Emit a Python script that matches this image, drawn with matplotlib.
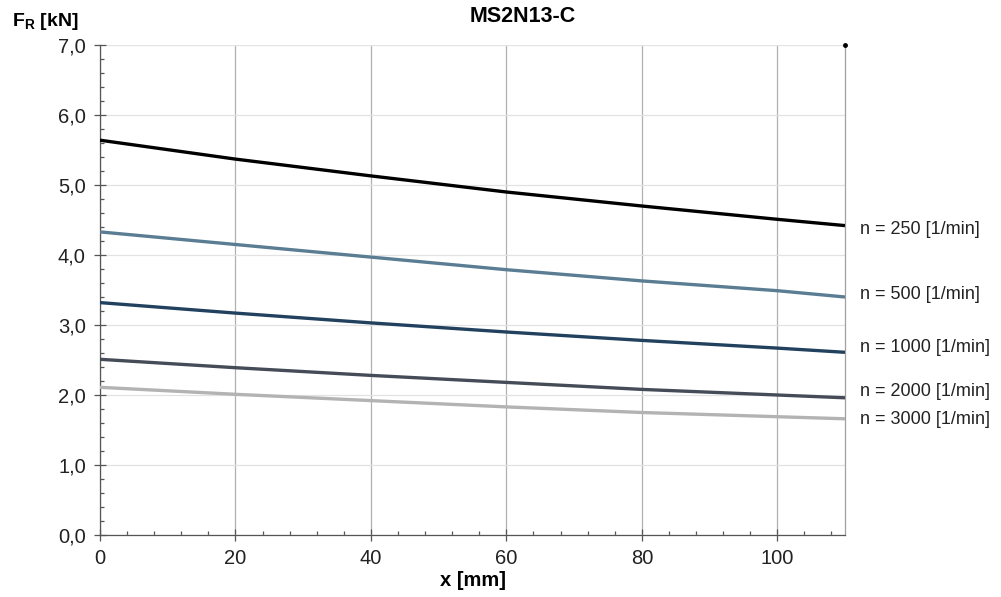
import matplotlib
matplotlib.use("Agg")
import matplotlib.pyplot as plt
from matplotlib.ticker import MultipleLocator, FuncFormatter

plt.rcParams['font.family'] = ['Liberation Sans', 'DejaVu Sans']

title = "MS2N13-C"
x_label = "x [mm]"
y_label = r"F$_\mathregular{R}$ [kN]"

x_mm = [0, 20, 40, 60, 80, 100, 110]
series_labels = ["n = 250 [1/min]", "n = 500 [1/min]", "n = 1000 [1/min]",
                 "n = 2000 [1/min]", "n = 3000 [1/min]"]
f_250 = [5.64, 5.37, 5.13, 4.90, 4.70, 4.51, 4.42]
f_500 = [4.33, 4.15, 3.97, 3.79, 3.63, 3.49, 3.40]
f_1000 = [3.32, 3.17, 3.03, 2.90, 2.78, 2.67, 2.61]
f_2000 = [2.51, 2.39, 2.28, 2.18, 2.08, 2.00, 1.96]
f_3000 = [2.11, 2.01, 1.92, 1.83, 1.75, 1.69, 1.66]
series = [f_250, f_500, f_1000, f_2000, f_3000]
colors = ["#000000", "#5a7d93", "#22415f", "#454c58", "#b3b3b3"]
# label vertical offsets (points) relative to line end
label_offsets = [-3, 2, 3.5, 4.5, -0.5]

fig = plt.figure(figsize=(10.01, 5.97), dpi=100)
ax = fig.add_axes([100/1001, 62/597, 745/1001, 490/597])

for ys, c, lab, off in zip(series, colors, series_labels, label_offsets):
    ax.plot(x_mm, ys, color=c, lw=2.4, solid_capstyle='butt', zorder=3)
    ax.annotate(lab, xy=(x_mm[-1], ys[-1]), xytext=(11, off),
                textcoords='offset points', ha='left', va='center',
                fontsize=13, color='#222222', annotation_clip=False)

ax.plot([110], [7.0], 'o', color='black', ms=2.5, clip_on=False, zorder=5)

ax.set_xlim(0, 110)
ax.set_ylim(0, 7.0)
ax.xaxis.set_major_locator(MultipleLocator(20))
ax.xaxis.set_minor_locator(MultipleLocator(4))
ax.yaxis.set_major_locator(MultipleLocator(1))
ax.yaxis.set_minor_locator(MultipleLocator(0.2))
ax.yaxis.set_major_formatter(FuncFormatter(lambda v, p: f"{v:.1f}".replace('.', ',')))

ax.grid(axis='x', which='major', color='#b0b0b0', lw=0.9)
ax.grid(axis='y', which='major', color='#e2e2e2', lw=0.9)
ax.set_axisbelow(True)

ax.spines['top'].set_visible(False)
ax.spines['right'].set_color('#a0a0a0')
ax.spines['left'].set_color('#555555')
ax.spines['bottom'].set_color('#555555')
for s in ['left', 'bottom', 'right']:
    ax.spines[s].set_linewidth(0.9)

ax.tick_params(which='major', direction='inout', length=8.5, width=0.9, color='#555555',
               labelsize=14.5, labelcolor='#222222')
ax.tick_params(which='minor', direction='in', length=3, width=0.9, color='#555555')
ax.tick_params(axis='y', which='major', pad=6)
ax.tick_params(axis='x', which='major', pad=6)

ax.set_xlabel(x_label, fontsize=14.5, fontweight='bold', labelpad=2)
fig.text(470/1001, 1 - 17/597, title, fontsize=15.5, fontweight='bold', ha='left', va='center')
fig.text(12/1001, 1 - 22/597, y_label, fontsize=14, fontweight='bold', ha='left', va='center')

fig.savefig("out.png", dpi=100)
